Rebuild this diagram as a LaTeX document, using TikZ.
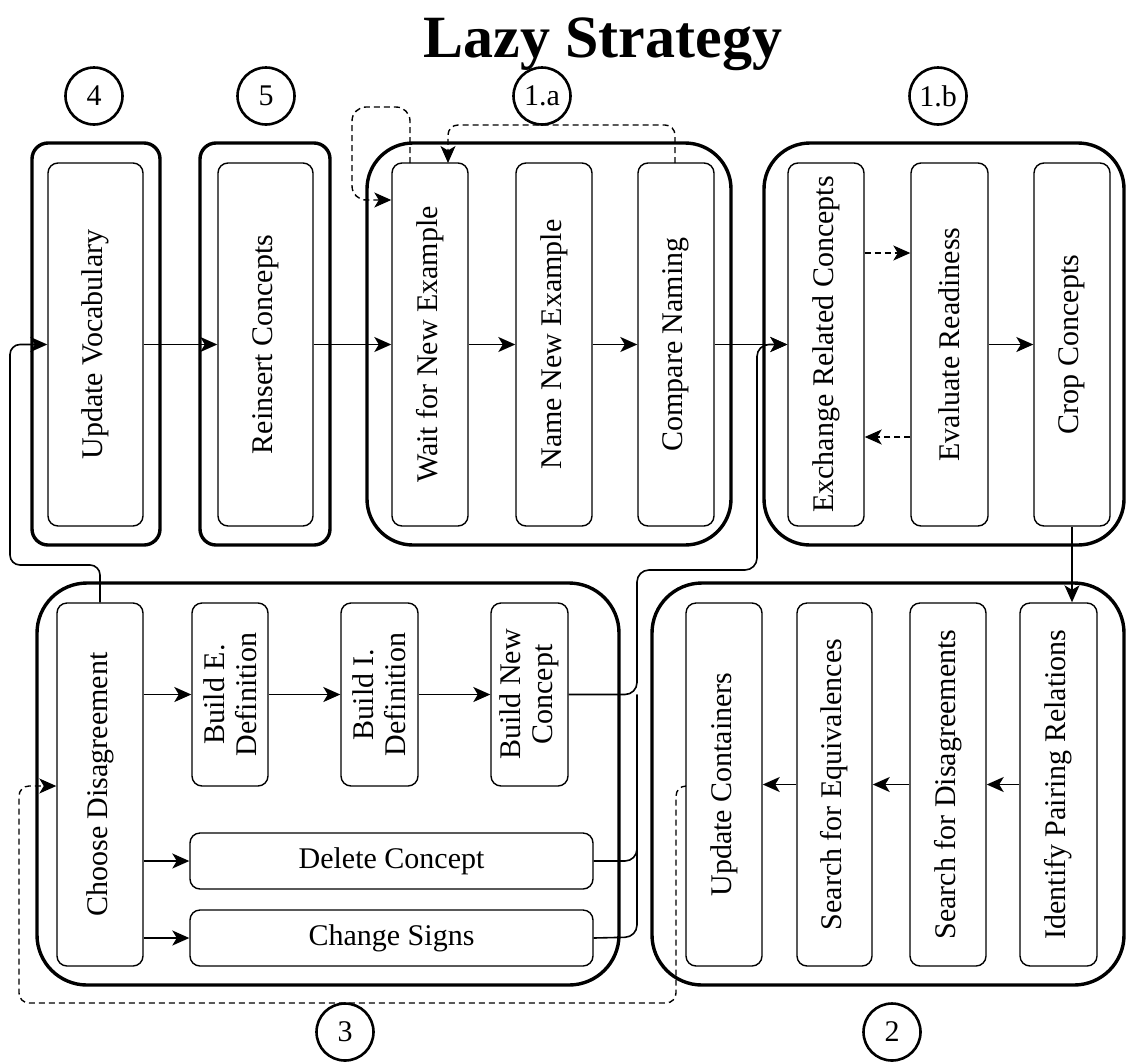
\documentclass[tikz,border=0pt]{standalone}
\usepackage{fontspec}
\setmainfont{Liberation Serif}
\usetikzlibrary{arrows.meta}

\tikzset{
  box/.style={draw, line width=1.4pt, rounded corners=10pt, inner sep=0pt, fill=white},
  lbl/.style={font=\fontsize{30}{32}\selectfont, align=center},
  group/.style={draw, line width=3.4pt},
  tag/.style={draw, circle, line width=2.6pt, minimum size=57pt, inner sep=0pt, font=\fontsize{30}{32}\selectfont},
  link/.style={line width=1.6pt},
  arr/.style={link, -{Stealth[length=17pt, width=15pt, inset=4.5pt]}},
  darr/.style={arr, line width=1.4pt, dash pattern=on 6pt off 4pt},
}

% rectangle node from corner coordinates; label set separately so it can be rotated
\newcommand{\stepnode}[7]{%
  \node[box, minimum width={#4-#2}, minimum height={#5-#3}] (#1) at ({(#2+#4)/2},{(#3+#5)/2}) {};
  \node[lbl, rotate=#7] at (#1.center) {#6};}

\begin{document}
\begin{tikzpicture}[x=1pt, y=-1pt]
\useasboundingbox (0,0) rectangle (1126,1063);

% title
\node[font=\fontsize{60}{60}\selectfont\bfseries, anchor=base] (title) at (603,57) {Lazy Strategy};

% group containers
\draw[group, rounded corners=16pt] (32,143) rectangle (160,545);
\draw[group, rounded corners=16pt] (200,143) rectangle (330,545);
\draw[group, rounded corners=46pt] (367,143) rectangle (731,545);
\draw[group, rounded corners=46pt] (764,143) rectangle (1124,545);
\draw[group, rounded corners=50pt] (37,583) rectangle (619,985);
\draw[group, rounded corners=50pt] (652,583) rectangle (1124,985);

% group tags
\node[tag] (t4) at (94,96) {4};
\node[tag] (t5) at (266,96) {5};
\node[tag] (t1a) at (542,96) {1.a};
\node[tag] (t1b) at (938,96) {1.b};
\node[tag] (t3) at (345,1032) {3};
\node[tag] (t2) at (892,1032) {2};

% top row
\stepnode{uv}{48}{163}{143}{526}{Update Vocabulary}{90}
\stepnode{ri}{218}{163}{313}{526}{Reinsert Concepts}{90}
\stepnode{wn}{392}{163}{468}{526}{Wait for New Example}{90}
\stepnode{nn}{516}{163}{592}{526}{Name New Example}{90}
\stepnode{cn}{638}{163}{714}{526}{Compare Naming}{90}
\stepnode{ex}{788}{163}{864}{526}{Exchange Related Concepts}{90}
\stepnode{ev}{911}{163}{988}{526}{Evaluate Readiness}{90}
\stepnode{cc}{1034}{163}{1110}{526}{Crop Concepts}{90}

% group 3
\stepnode{cd}{57}{603}{143}{966}{Choose Disagreement}{90}
\stepnode{be}{192}{603}{268}{786}{Build E.\\Definition}{90}
\stepnode{bi}{341}{603}{418}{786}{Build I.\\Definition}{90}
\stepnode{bn}{491}{603}{568}{786}{Build New\\Concept}{90}
\stepnode{dc}{190}{833}{593}{889}{Delete Concept}{0}
\stepnode{cs}{190}{910}{593}{966}{Change Signs}{0}

% group 2
\stepnode{uc}{686}{603}{762}{966}{Update Containers}{90}
\stepnode{se}{797}{603}{872}{966}{Search for Equivalences}{90}
\stepnode{sd}{910}{603}{986}{966}{Search for Disagreements}{90}
\stepnode{ip}{1020}{603}{1097}{966}{Identify Pairing Relations}{90}

% main flow
\draw[arr] (uv) -- (ri);
\draw[arr] (ri) -- (wn);
\draw[arr] (wn) -- (nn);
\draw[arr] (nn) -- (cn);
\draw[arr] (cn) -- (ex);
\draw[darr] (ex.east |- 0,253) -- (ev.west |- 0,253);
\draw[darr] (ev.west |- 0,437) -- (ex.east |- 0,437);
\draw[arr] (ev) -- (cc);
\draw[arr] (cc.south) -- (cc.south |- ip.north);
\draw[arr] (ip) -- (sd);
\draw[arr] (sd) -- (se);
\draw[arr] (se) -- (uc);

% choices in group 3
\draw[arr] (cd.east |- be) -- (be);
\draw[arr] (be) -- (bi);
\draw[arr] (bi) -- (bn);
\draw[arr] (cd.east |- dc) -- (dc);
\draw[arr] (cd.east |- cs) -- (cs);

% results of group 3 back into 1.b
\draw[arr, rounded corners=12pt] (bn.east) -- (bn.east -| 637,0) -- (637,570) -- (757,570) -- (757,344.5) -- (ex.west);
\draw[link, rounded corners=12pt] (dc.east) -- (637,861) -- (637,694.5);
\draw[link, rounded corners=12pt] (cs.east) -- (637,937) -- (637,694.5);

% loop back to vocabulary
\draw[arr, rounded corners=10pt] (cd.north) -- (100,565) -- (10,565) -- (10,344.5) -- (uv.west);

% dashed loops around 1.a
\draw[darr, rounded corners=14pt] (410,163) -- (410,107) -- (352,107) -- (352,200) -- (wn.west |- 0,200);
\draw[darr, rounded corners=10pt] (675,163) -- (675,125) -- (448,125) -- (448,163);

% dashed loop from containers to disagreement choice
\draw[darr, rounded corners=10pt] (uc.west |- 0,786) -- (676,786) -- (676,1003) -- (19,1003) -- (19,786) -- (cd.west |- 0,786);
\end{tikzpicture}
\end{document}
